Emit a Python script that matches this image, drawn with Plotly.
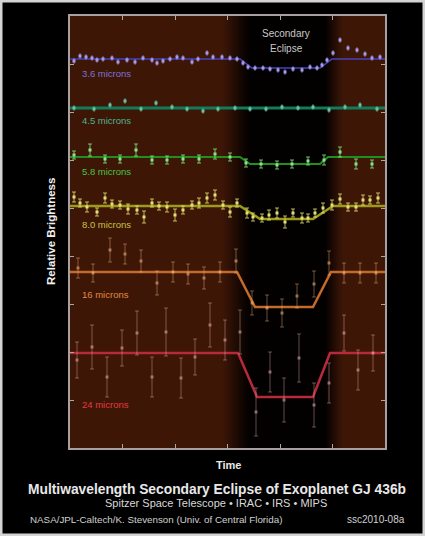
import plotly.graph_objects as go

# ---------------- data (time units, relative brightness units with per-band offsets) -------------
x36 = [4, 10, 16, 22, 27, 33, 42, 48, 57, 65, 73, 82, 87, 93, 100, 107, 113, 122, 128, 137, 143, 152,
       160, 167, 173, 178, 185, 193, 200, 208, 215, 223, 232, 240, 247, 252, 257, 263, 270, 278, 287,
       295, 302, 310]
y36 = [387, 392, 391, 390, 388, 389, 390, 386, 388, 386, 390, 388, 385, 387, 389, 391, 390, 386, 389,
       395, 391, 391, 390, 389, 385, 381, 380, 380, 379, 378, 376, 379, 378, 381, 380, 383, 388, 395,
       408, 400, 398, 394, 390, 391]
model36_x = [0, 170, 182, 250, 262, 315]
model36_y = [389, 389, 380, 380, 389, 389]

x45 = [4, 24, 40, 55, 71, 86, 102, 117, 133, 148, 165, 180, 196, 212, 228, 243, 259, 275, 290, 307]
y45 = [340, 339, 343, 347, 339, 345, 341, 339, 337, 339, 340, 339, 339, 341, 340, 341, 338, 341, 343, 339]
model45_x = [0, 315]
model45_y = [340, 340]

x58 = [4, 20, 35, 50, 66, 82, 97, 113, 129, 145, 160, 176, 191, 207, 222, 238, 254, 270, 286, 302]
y58 = [293, 298, 289, 289, 298, 288, 288, 289, 289, 294, 291, 285, 284, 283, 284, 287, 288, 296, 284, 284]
e58 = [4, 6, 4, 4, 6, 4, 4, 4, 4, 5, 4, 4, 4, 4, 4, 4, 5, 5, 5, 4]
model58_x = [0, 170, 180, 250, 258, 315]
model58_y = [291, 291, 284, 284, 291, 291]

x80 = [4, 10, 17, 27, 35, 42, 50, 58, 67, 74, 82, 89, 97, 105, 113, 122, 129, 137, 145, 153, 160,
       167, 177, 183, 192, 199, 207, 215, 223, 232, 238, 245, 253, 262, 270, 278, 286, 293, 300, 308]
y80 = [251, 245, 241, 236, 250, 244, 243, 239, 238, 231, 245, 242, 241, 233, 238, 243, 245, 250, 253,
       243, 236, 245, 235, 231, 230, 233, 235, 226, 235, 230, 230, 235, 240, 243, 249, 241, 241, 248,
       248, 250]
e80 = [5, 4, 5, 4, 5, 4, 4, 5, 4, 6, 4, 4, 5, 6, 4, 4, 5, 5, 5, 4, 5, 4, 5, 4, 4, 5, 5, 6, 4, 5,
       4, 4, 5, 5, 5, 4, 4, 5, 4, 5]
model80_x = [0, 170, 190, 243, 263, 315]
model80_y = [242, 242, 229, 229, 242, 242]

x16 = [8, 23, 40, 55, 71, 87, 103, 118, 134, 150, 166, 182, 197, 212, 227, 244, 259, 274, 290, 306]
y16 = [180, 175, 198, 194, 187, 165, 176, 174, 170, 176, 187, 145, 140, 135, 152, 164, 185, 175, 175, 175]
e16 = [10, 9, 12, 10, 11, 12, 10, 10, 11, 10, 12, 12, 13, 14, 12, 13, 12, 10, 10, 10]
model16_x = [0, 167, 185, 243, 261, 315]
model16_y = [176, 176, 141, 141, 176, 176]

x24 = [7, 22, 37, 52, 67, 82, 96, 111, 125, 140, 155, 170, 186, 200, 214, 229, 244, 259, 274, 288, 303]
y24 = [88, 101, 71, 100, 115, 71, 116, 70, 91, 123, 108, 116, 36, 76, 48, 90, 43, 65, 115, 78, 95]
e24 = [18, 22, 20, 18, 22, 20, 24, 20, 18, 22, 20, 22, 24, 20, 22, 24, 22, 20, 18, 20, 18]
model24_x = [0, 168, 187, 243, 260, 315]
model24_y = [95, 95, 51, 51, 95, 95]

band_labels = ["3.6 microns", "4.5 microns", "5.8 microns", "8.0 microns", "16 microns", "24 microns"]
label_y = [375, 328, 277, 224, 154, 44]

# ---------------- styling ----------------
W, H = 425, 536
ML, MR, MT, MB = 70, 40, 16, 88
PW, PH = W - ML - MR, H - MT - MB
XMAX, YMAX = 315, 432

def px_x(px):
    return (px - ML) / PW

def px_y(py):
    return (H - MB - py) / PH

fig = go.Figure()

# background: brown with dark eclipse band
bx = list(range(0, XMAX + 1, 3))
def shade(v):
    if v < 152:
        return 1.0
    if v < 178:
        return 1.0 - (v - 152) / 26
    if v < 255:
        return 0.0
    if v < 272:
        return (v - 255) / 17
    return 1.0
bz = [shade(v) for v in bx]
fig.add_trace(go.Heatmap(x=bx, y=[0, YMAX], z=[bz, bz], zsmooth="best", showscale=False,
                         colorscale=[[0, "#030100"], [1, "#3e1606"]], zmin=0, zmax=1,
                         hoverinfo="skip"))

series = [
    (x36, y36, None, model36_x, model36_y, "#4b40bb", "#a49cee", 1.5, 3),
    (x45, y45, None, model45_x, model45_y, "#137b5b", "#66c4a4", 3, 3),
    (x58, y58, e58, model58_x, model58_y, "#1f8f1f", "#86e486", 2, 3),
    (x80, y80, e80, model80_x, model80_y, "#9c9a18", "#e2e074", 2.5, 3),
    (x16, y16, e16, model16_x, model16_y, "#c46a2a", "rgba(240,180,130,0.55)", 2.5, 3),
    (x24, y24, e24, model24_x, model24_y, "#b82a3a", "rgba(240,185,185,0.5)", 2.5, 3),
]
for xs, ys, es, mx, my, lc, pc, lw, ms in series:
    fig.add_trace(go.Scatter(x=mx, y=my, mode="lines", line=dict(color=lc, width=lw),
                             hoverinfo="skip", showlegend=False))
    err = dict(type="data", array=es, visible=True, color=pc, thickness=0.8, width=2) if es else \
        dict(type="data", array=[2] * len(xs), visible=True, color=pc, thickness=0.6, width=1)
    fig.add_trace(go.Scatter(x=xs, y=ys, mode="markers",
                             marker=dict(color=pc, size=ms, symbol="square"),
                             error_y=err, hoverinfo="skip", showlegend=False))

label_colors = ["#7d72d8", "#4fb48f", "#45c445", "#c9c244", "#e08a44", "#e23a44"]
for txt, yy, c in zip(band_labels, label_y, label_colors):
    fig.add_annotation(x=10, y=yy, xref="x", yref="y", text=txt, showarrow=False,
                       xanchor="left", yanchor="middle",
                       font=dict(family="Liberation Sans", size=9.5, color=c))

fig.add_annotation(x=216, y=YMAX - 17, xref="x", yref="y", text="Secondary", showarrow=False,
                   xanchor="center", yanchor="middle",
                   font=dict(family="Liberation Sans", size=10, color="#c8c8c8"))
fig.add_annotation(x=216, y=YMAX - 32, xref="x", yref="y", text="Eclipse", showarrow=False,
                   xanchor="center", yanchor="middle",
                   font=dict(family="Liberation Sans", size=10, color="#c8c8c8"))

# axis title / captions (explicit anchors)
def caption(px, py, text, size, color, xanchor="center", textangle=0):
    fig.add_annotation(x=px_x(px), y=px_y(py), xref="paper", yref="paper", text=text,
                       showarrow=False, xanchor=xanchor, yanchor="middle", textangle=textangle,
                       font=dict(family="Liberation Sans", size=size, color=color))

caption(51, 232, "<b>Relative Brightness</b>", 11.5, "#f0f0f0", textangle=-90)
caption(228, 465, "<b>Time</b>", 11, "#e8e8e8")
caption(217, 489, "<b>Multiwavelength Secondary Eclipse of Exoplanet GJ 436b</b>", 13.8, "#e8e8e8")
caption(216, 503, "Spitzer Space Telescope • IRAC • IRS • MIPS", 11, "#d8d8d8")
caption(28, 519, "NASA/JPL-Caltech/K. Stevenson (Univ. of Central Florida)", 9.8, "#d0d0d0", xanchor="left")
caption(407, 519, "ssc2010-08a", 10, "#d0d0d0", xanchor="right")

# outer light frame
fig.add_shape(type="rect", xref="paper", yref="paper", x0=px_x(0), x1=px_x(W), y0=px_y(H), y1=px_y(0),
              line=dict(color="#d4d4d4", width=5), layer="above")

axis_common = dict(showgrid=False, zeroline=False, showticklabels=False, ticks="inside", ticklen=4,
                   tickcolor="#a8a8a8", showline=True, linecolor="#a8a0a0", linewidth=1.5,
                   mirror="ticks", fixedrange=True)
fig.update_xaxes(range=[0, XMAX], tick0=0, dtick=52.5, **axis_common)
fig.update_yaxes(range=[0, YMAX], tick0=0, dtick=48, **axis_common)

fig.update_layout(width=W, height=H, autosize=False,
                  margin=dict(l=ML, r=MR, t=MT, b=MB, pad=0),
                  paper_bgcolor="#000000", plot_bgcolor="#3e1606", showlegend=False)

fig.write_html("out.html", config={"displayModeBar": False},
               post_script="document.body.style.margin='0';document.body.style.overflow='hidden';")
